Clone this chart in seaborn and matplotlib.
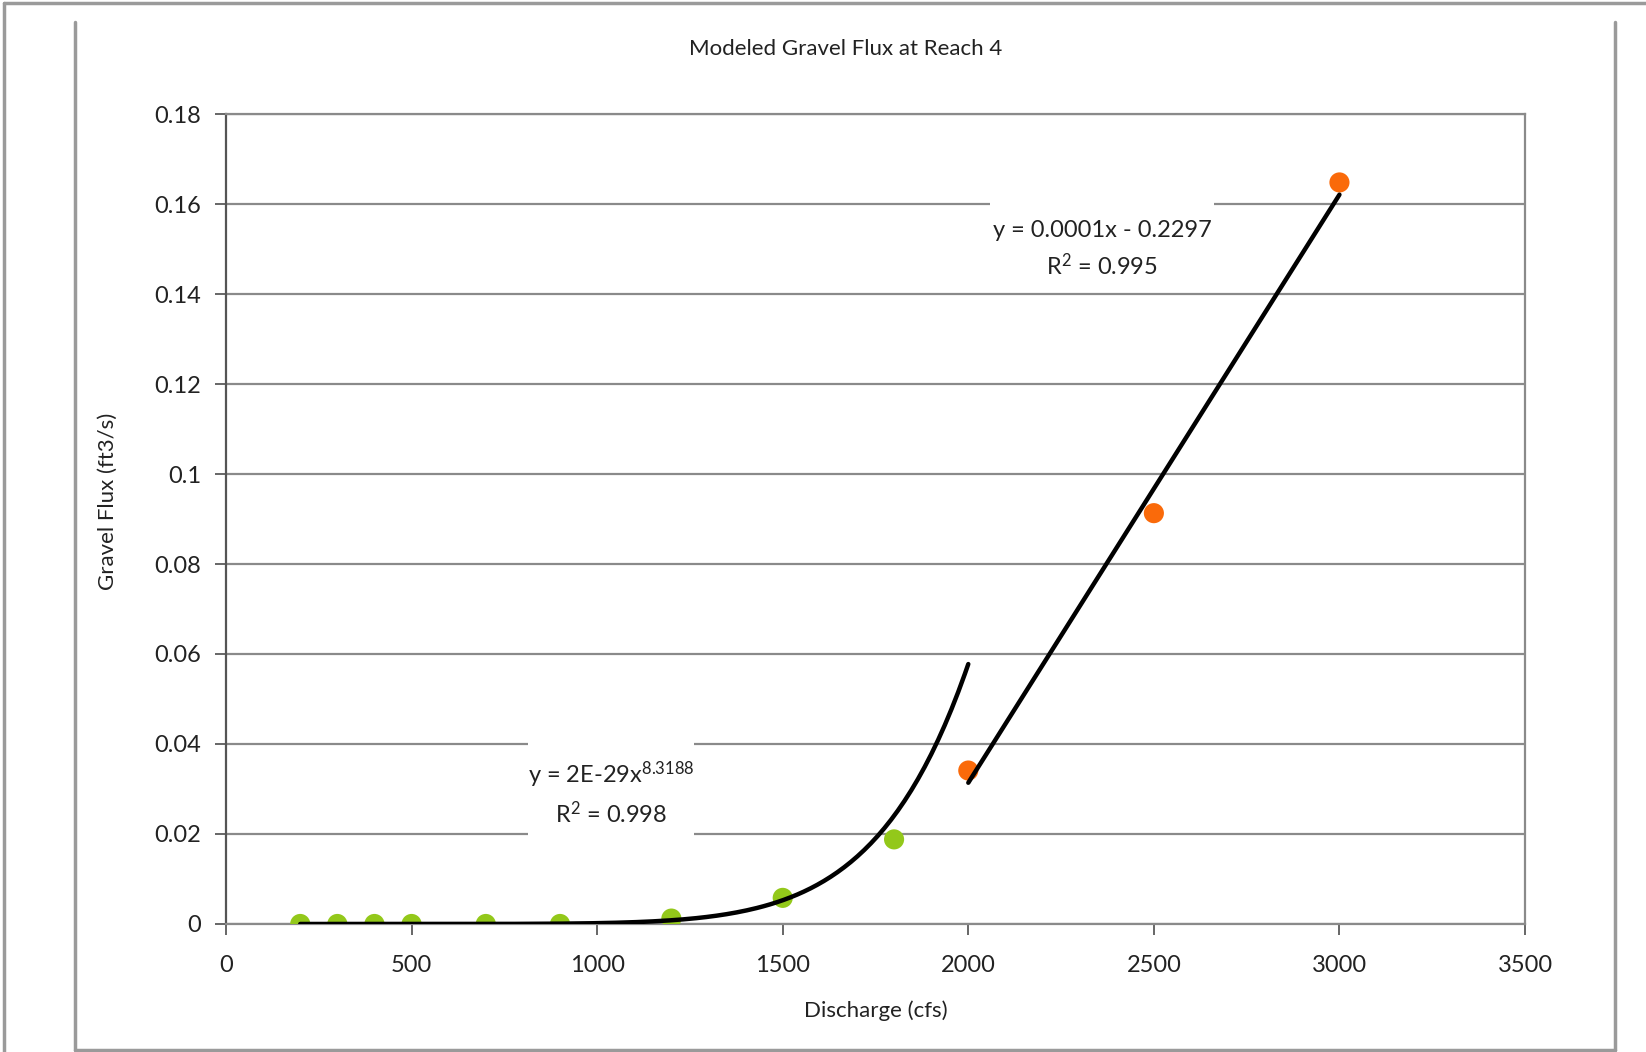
import matplotlib
matplotlib.use("Agg")
import matplotlib.pyplot as plt
import numpy as np
import pandas as pd
import seaborn as sns
from matplotlib.lines import Line2D
from matplotlib.patches import Rectangle

# data
low_q = [200, 300, 400, 500, 700, 900, 1200, 1500, 1800]
low_flux = [0.0, 0.0, 0.0, 0.0, 0.0, 0.0, 0.0012, 0.0058, 0.0188]
high_q = [2000, 2500, 3000]
high_flux = [0.0341, 0.0913, 0.1648]

# power trendline as reported on the chart
power_coef = 2e-29
power_exp = 8.3188

x_ticks = [0, 500, 1000, 1500, 2000, 2500, 3000, 3500]
y_ticks = [0, 0.02, 0.04, 0.06, 0.08, 0.1, 0.12, 0.14, 0.16, 0.18]
y_tick_labels = ["0", "0.02", "0.04", "0.06", "0.08", "0.1", "0.12", "0.14", "0.16", "0.18"]

GREEN = "#93C81A"
ORANGE = "#FA6A0A"
GRID = "#8a8a8a"
TEXT = "#222222"
FONT = ["Lato", "DejaVu Sans"]

sns.set_theme(style="white")
plt.rcParams["font.family"] = FONT

fig = plt.figure(figsize=(16.46, 10.52), dpi=100)
ax = fig.add_axes([0.1373, 0.1217, 0.9265 - 0.1373, 0.8916 - 0.1217])

low = pd.DataFrame({"q": low_q, "flux": low_flux})
high = pd.DataFrame({"q": high_q, "flux": high_flux})

# trendlines
q_pow = np.linspace(low_q[0], high_q[0], 200)
pow_df = pd.DataFrame({"q": q_pow, "flux": power_coef * q_pow ** power_exp})
slope, intercept = np.polyfit(high_q, high_flux, 1)
lin_df = pd.DataFrame({"q": [high_q[0], high_q[-1]]})
lin_df["flux"] = slope * lin_df["q"] + intercept

sns.scatterplot(data=low, x="q", y="flux", color=GREEN, s=210, edgecolor="none", ax=ax, zorder=3)
sns.scatterplot(data=high, x="q", y="flux", color=ORANGE, s=210, edgecolor="none", ax=ax, zorder=3)
sns.lineplot(data=pow_df, x="q", y="flux", color="black", linewidth=3.2, ax=ax, zorder=4)
sns.lineplot(data=lin_df, x="q", y="flux", color="black", linewidth=3.2, ax=ax, zorder=4)

ax.set_xlim(0, 3500)
ax.set_ylim(0, 0.18)
ax.set_xticks(x_ticks)
ax.set_xticklabels([str(t) for t in x_ticks])
ax.set_yticks(y_ticks)
ax.set_yticklabels(y_tick_labels)
ax.yaxis.grid(True, color=GRID, linewidth=1.6)
ax.set_axisbelow(True)
for side in ["top", "right", "left", "bottom"]:
    ax.spines[side].set_visible(True)
    ax.spines[side].set_color(GRID)
    ax.spines[side].set_linewidth(1.6)
ax.spines["left"].set_color("#555555")
ax.tick_params(axis="both", direction="out", length=8, width=1.4, color="#666666",
               labelsize=17, labelcolor=TEXT, left=True, bottom=True)
ax.tick_params(axis="x", pad=14)
ax.tick_params(axis="y", pad=10)
ax.set_xlabel("")
ax.set_ylabel("")

fig.text(0.514, 0.953, "Modeled Gravel Flux at Reach 4", ha="center", va="center",
         fontsize=16, color=TEXT, family=FONT)
fig.text(0.0657, 0.523, "Gravel Flux (ft3/s)", ha="center", va="center", rotation=90,
         fontsize=16, color=TEXT, family=FONT)
fig.text(0.532, 0.039, "Discharge (cfs)", ha="center", va="center",
         fontsize=16, color=TEXT, family=FONT)

# white patches behind the trendline labels (they break the gridlines)
ax.add_patch(Rectangle((2058, 0.154), 605, 0.012, facecolor="white", edgecolor="none", zorder=1.5))
ax.add_patch(Rectangle((814, 0.015), 447, 0.030, facecolor="white", edgecolor="none", zorder=1.5))
ax.text(2361, 0.1499, "y = 0.0001x - 0.2297\n$\\mathregular{R^2}$ = 0.995", ha="center", va="center",
        fontsize=17, color=TEXT, linespacing=1.5, zorder=2)
ax.text(1037, 0.0290, "y = 2E-29x$\\mathregular{^{8.3188}}$\n$\\mathregular{R^2}$ = 0.998", ha="center",
        va="center", fontsize=17, color=TEXT, linespacing=1.45, zorder=2)

# outer frame lines
W, H = 1646, 1052
frame = dict(color="#9a9a9a", linewidth=2.5, transform=fig.transFigure)
fig.add_artist(Line2D([4 / W, 4 / W], [0, 1 - 3 / H], **frame))
fig.add_artist(Line2D([4 / W, 1], [1 - 3 / H, 1 - 3 / H], **frame))
fig.add_artist(Line2D([75 / W, 75 / W], [2 / H, 1 - 22 / H], **frame))
fig.add_artist(Line2D([1615 / W, 1615 / W], [2 / H, 1 - 22 / H], **frame))
fig.add_artist(Line2D([75 / W, 1615 / W], [2 / H, 2 / H], **frame))

fig.savefig("out.png", dpi=100)
